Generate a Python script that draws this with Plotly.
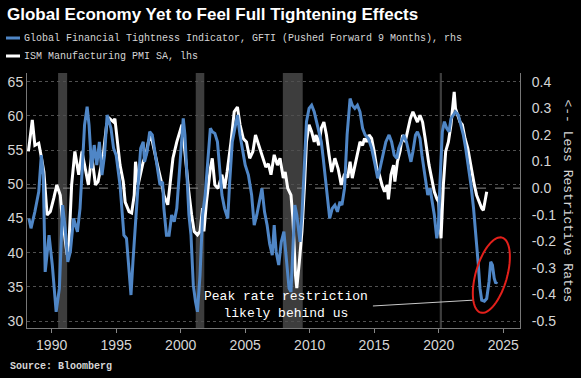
import numpy as np
import plotly.graph_objects as go

# ---------------- data ----------------
pmi_dates = [1988.2, 1988.5, 1988.7, 1989.0, 1989.15, 1989.4, 1989.65, 1989.9, 1990.17, 1990.4,
             1990.67, 1990.8, 1991.0, 1991.2, 1991.35, 1991.55, 1991.8, 1992.1, 1992.35, 1992.6,
             1992.85, 1993.1, 1993.4, 1993.6, 1994.0, 1994.26, 1994.5, 1994.8, 1994.9, 1995.1,
             1995.3, 1995.55, 1995.7, 1996.0, 1996.2, 1996.4, 1996.5, 1996.7, 1996.9, 1997.1,
             1997.3, 1997.5, 1997.7, 1997.95, 1998.2, 1998.5, 1998.7, 1999.0, 1999.2, 1999.4,
             1999.7, 1999.95, 2000.1, 2000.3, 2000.45, 2000.6, 2000.85, 2001.05, 2001.3, 2001.5,
             2001.7, 2001.8, 2002.0, 2002.3, 2002.45, 2002.65, 2002.9, 2003.2, 2003.4, 2003.6,
             2003.9, 2004.15, 2004.4, 2004.6, 2004.85, 2005.1, 2005.35, 2005.6, 2005.8, 2006.05,
             2006.3, 2006.6, 2006.8, 2007.0, 2007.25, 2007.5, 2007.7, 2007.95, 2008.1, 2008.3,
             2008.55, 2008.7, 2008.9, 2009.0, 2009.2, 2009.4, 2009.6, 2009.75, 2009.95, 2010.15,
             2010.35, 2010.5, 2010.7, 2010.9, 2011.1, 2011.3, 2011.5, 2011.7, 2011.95, 2012.2,
             2012.45, 2012.7, 2012.95, 2013.13, 2013.3, 2013.5, 2013.7, 2013.9, 2014.1, 2014.25,
             2014.4, 2014.6, 2014.8, 2015.0, 2015.2, 2015.4, 2015.6, 2015.8, 2016.0, 2016.1,
             2016.3, 2016.5, 2016.6, 2016.8, 2017.0, 2017.2, 2017.4, 2017.6, 2017.8, 2018.0,
             2018.2, 2018.35, 2018.55, 2018.75, 2018.95, 2019.07, 2019.25, 2019.45, 2019.66, 2019.85,
             2020.0, 2020.18, 2020.36, 2020.54, 2020.75, 2020.95, 2021.13, 2021.2, 2021.3, 2021.47,
             2021.65, 2021.83, 2022.04, 2022.25, 2022.43, 2022.6, 2022.76, 2022.94, 2023.13, 2023.33,
             2023.46, 2023.6, 2023.72]
pmi_values = [54.8, 59.4, 55.7, 56.0, 54.5, 51.8, 45.5, 46.0, 48.0, 49.9,
              48.4, 45.5, 42.6, 39.7, 41.6, 49.9, 54.8, 51.4, 54.8, 52.4,
              49.9, 54.3, 49.9, 50.4, 54.3, 58.7, 59.6, 59.1, 59.6, 56.2,
              52.8, 50.4, 47.4, 46.0, 45.8, 48.4, 53.3, 49.9, 51.8, 53.3,
              54.3, 56.2, 57.2, 54.8, 52.8, 50.4, 48.4, 47.0, 50.4, 53.8,
              56.2, 57.7, 58.7, 55.3, 52.0, 49.4, 45.5, 43.1, 42.6, 43.1,
              46.5, 43.1, 47.4, 52.3, 53.8, 49.9, 49.4, 51.4, 49.4, 51.8,
              56.2, 60.6, 61.3, 58.7, 56.7, 56.2, 53.8, 54.8, 57.2, 55.7,
              54.3, 52.5, 53.0, 51.4, 54.3, 52.8, 53.8, 50.9, 51.8, 49.4,
              48.4, 45.0, 36.7, 34.8, 38.7, 43.1, 49.9, 56.2, 58.7, 57.7,
              56.2, 57.2, 55.7, 58.2, 59.1, 57.2, 54.3, 51.8, 53.8, 52.3,
              49.9, 51.5, 51.0, 53.3, 50.9, 52.8, 54.8, 56.2, 55.7, 56.7,
              56.2, 57.2, 56.7, 54.8, 52.3, 51.4, 49.9, 48.9, 49.9, 47.8,
              51.4, 52.8, 50.4, 53.3, 54.8, 57.2, 56.2, 57.7, 59.6, 60.6,
              59.6, 59.1, 60.1, 59.1, 56.7, 54.8, 52.8, 50.9, 48.9, 47.9,
              47.4, 42.1, 49.9, 54.8, 56.2, 58.7, 62.1, 63.5, 61.1, 60.1,
              59.1, 58.7, 56.7, 55.3, 53.3, 51.8, 49.9, 48.4, 47.4, 46.5,
              46.2, 47.4, 48.9]

gfti_dates = [1988.24, 1988.4, 1988.7, 1989.0, 1989.2, 1989.35, 1989.5, 1989.8, 1990.05, 1990.35,
              1990.6, 1990.85, 1991.05, 1991.25, 1991.45, 1991.7, 1992.0, 1992.2, 1992.4, 1992.55,
              1992.75, 1992.9, 1993.1, 1993.3, 1993.5, 1993.7, 1993.9, 1994.1, 1994.3, 1994.6,
              1994.8, 1995.0, 1995.3, 1995.5, 1995.6, 1995.8, 1996.0, 1996.15, 1996.3, 1996.5,
              1996.7, 1996.9, 1997.1, 1997.2, 1997.4, 1997.6, 1997.8, 1998.0, 1998.2, 1998.4,
              1998.6, 1998.7, 1998.9, 1999.1, 1999.3, 1999.5, 1999.7, 1999.9, 2000.1, 2000.2,
              2000.33, 2000.46, 2000.64, 2000.8, 2000.98, 2001.15, 2001.3, 2001.5, 2001.7, 2001.9,
              2002.1, 2002.3, 2002.45, 2002.65, 2002.85, 2003.05, 2003.2, 2003.4, 2003.65, 2003.8,
              2004.0, 2004.2, 2004.4, 2004.6, 2004.8, 2005.0, 2005.25, 2005.5, 2005.7, 2005.9,
              2006.1, 2006.3, 2006.5, 2006.7, 2006.9, 2007.1, 2007.25, 2007.4, 2007.6, 2007.8,
              2008.0, 2008.2, 2008.4, 2008.55, 2008.7, 2008.85, 2009.0, 2009.25, 2009.4, 2009.6,
              2009.75, 2009.95, 2010.15, 2010.35, 2010.6, 2010.9, 2011.05, 2011.2, 2011.4, 2011.55,
              2011.75, 2011.95, 2012.15, 2012.35, 2012.5, 2012.7, 2012.9, 2013.13, 2013.3, 2013.5,
              2013.7, 2013.9, 2014.1, 2014.3, 2014.55, 2014.8, 2015.07, 2015.27, 2015.45, 2015.6,
              2015.9, 2016.15, 2016.35, 2016.55, 2016.75, 2016.9, 2017.1, 2017.3, 2017.5, 2017.7,
              2017.85, 2018.0, 2018.2, 2018.35, 2018.55, 2018.7, 2018.9, 2019.15, 2019.33, 2019.5,
              2019.66, 2019.85, 2019.97, 2020.1, 2020.28, 2020.44, 2020.62, 2020.8, 2020.95, 2021.13,
              2021.3, 2021.52, 2021.73, 2021.91, 2022.09, 2022.3, 2022.5, 2022.7, 2022.82, 2022.95,
              2023.07, 2023.2, 2023.33, 2023.54, 2023.72, 2023.9, 2024.03, 2024.16, 2024.3, 2024.42,
              2024.52]
gfti_values = [-0.114, -0.151, -0.089, -0.014, 0.124, 0.049, -0.315, -0.177, -0.289, -0.465,
               -0.377, -0.064, -0.151, -0.277, -0.239, -0.114, -0.164, -0.076, 0.099, 0.237,
               0.306, 0.237, 0.074, 0.162, 0.087, 0.174, 0.049, 0.124, 0.275, 0.225,
               0.150, 0.124, 0.012, -0.101, -0.177, -0.189, -0.302, -0.402, -0.277, -0.114,
               0.012, 0.150, 0.174, 0.099, 0.137, 0.212, 0.200, 0.137, 0.074, 0.012,
               0.024, -0.076, -0.177, -0.177, -0.101, -0.126, -0.076, 0.049, 0.200, 0.262,
               0.200, 0.049, -0.101, -0.177, -0.365, -0.427, -0.465, -0.327, -0.101, -0.026,
               0.087, 0.225, 0.212, 0.206, 0.174, 0.049, -0.026, -0.076, -0.114, 0.024,
               0.174, 0.225, 0.275, 0.200, 0.137, 0.087, 0.049, -0.026, -0.139, -0.101,
               -0.051, -0.001, -0.089, -0.139, -0.210, -0.252, -0.139, -0.239, -0.289, -0.202,
               -0.164, -0.277, -0.377, -0.390, -0.202, -0.064, -0.101, -0.202, -0.101, 0.099,
               0.250, 0.300, 0.312, 0.287, 0.237, 0.174, 0.112, 0.037, -0.064, -0.114,
               -0.076, -0.064, -0.089, -0.051, -0.064, 0.000, 0.200, 0.337, 0.312, 0.300,
               0.312, 0.287, 0.225, 0.200, 0.187, 0.150, 0.087, 0.037, 0.074, 0.112,
               0.174, 0.200, 0.174, 0.124, 0.112, 0.150, 0.174, 0.200, 0.174, 0.124,
               0.099, 0.137, 0.200, 0.212, 0.187, 0.124, 0.049, -0.026, -0.001, -0.051,
               -0.101, -0.189, -0.151, 0.024, 0.212, 0.250, 0.225, 0.212, 0.262, 0.275,
               0.287, 0.275, 0.237, 0.200, 0.150, 0.087, 0.012, -0.076, -0.139, -0.214,
               -0.289, -0.377, -0.421, -0.425, -0.415, -0.352, -0.277, -0.289, -0.339, -0.358,
               -0.352]

recession_starts = [1990.5, 2001.17, 2007.92, 2020.08]
recession_ends = [1991.2, 2001.83, 2009.46, 2020.25]

x_ticks = [1990, 1995, 2000, 2005, 2010, 2015, 2020, 2025]
left_ticks = [30, 35, 40, 45, 50, 55, 60, 65]
right_ticks = [0.4, 0.3, 0.2, 0.1, 0.0, -0.1, -0.2, -0.3, -0.4, -0.5]
right_tick_labels = ["0.4", "0.3", "0.2", "0.1", "0.0", "-0.1", "-0.2", "-0.3", "-0.4", "-0.5"]

title_text = "Global Economy Yet to Feel Full Tightening Effects"
legend_gfti = "Global Financial Tightness Indicator, GFTI (Pushed Forward 9 Months), rhs"
legend_pmi = "ISM Manufacturing PMI SA, lhs"
right_title = "<-- Less Restrictive Rates"
callout_text = "Peak rate restriction<br>likely behind us"
source_text = "Source: Bloomberg"

# ---------------- style ----------------
BLUE = "#4f86c6"
WHITE = "#ffffff"
TXT = "#d6d6d6"
W, H = 581, 378
ML, MR, MT, MB = 27, 61, 73, 50
XR = [1988.09, 2026.3]
YR = [28.98, 66.27]
Y2R = [-0.526, 0.433]
MONO = "Liberation Mono"
SANS = "Liberation Sans"

fig = go.Figure()
fig.add_trace(go.Scatter(x=gfti_dates, y=gfti_values, yaxis="y2", mode="lines",
                         line=dict(color=BLUE, width=3), name=legend_gfti, showlegend=False))
fig.add_trace(go.Scatter(x=pmi_dates, y=pmi_values, mode="lines",
                         line=dict(color=WHITE, width=3), name=legend_pmi, showlegend=False))

shapes = []
for s, e in zip(recession_starts, recession_ends):
    shapes.append(dict(type="rect", xref="x", yref="paper", x0=s, x1=e, y0=0, y1=1,
                       fillcolor="#3d3d3d", line=dict(width=0), layer="below"))
# zero line of right axis
shapes.append(dict(type="line", xref="paper", yref="y2", x0=0, x1=1, y0=0, y1=0,
                   line=dict(color="#8a8a8a", width=1, dash="dash"), layer="below"))

pw = W - ML - MR
ph = H - MT - MB
def px_to_paper_x(px):
    return (px - ML) / pw
def px_to_paper_y(py):
    return (H - MB - py) / ph

# legend swatches
shapes.append(dict(type="line", xref="paper", yref="paper",
                   x0=px_to_paper_x(6), x1=px_to_paper_x(20), y0=px_to_paper_y(38), y1=px_to_paper_y(38),
                   line=dict(color=BLUE, width=3)))
shapes.append(dict(type="line", xref="paper", yref="paper",
                   x0=px_to_paper_x(6), x1=px_to_paper_x(20), y0=px_to_paper_y(56), y1=px_to_paper_y(56),
                   line=dict(color=WHITE, width=3)))

# callout connector
shapes.append(dict(type="line", xref="x", yref="y", x0=2014.9, y0=32.2, x1=2022.65, y1=33.05,
                   line=dict(color="#c8c8c8", width=1)))

# red ellipse (rotated) around the latest GFTI readings
xs_per_px = (XR[1] - XR[0]) / pw
y2_per_px = (Y2R[1] - Y2R[0]) / ph
cx, cy = 2024.08, -0.327
a, b = 39.0, 15.7
theta = np.deg2rad(16)
t = np.linspace(0, 2 * np.pi, 73)
ux = b * np.cos(t)
uy = a * np.sin(t)
dx = ux * np.cos(theta) + uy * np.sin(theta)
dy = -ux * np.sin(theta) + uy * np.cos(theta)
pts = [(cx + dx_i * xs_per_px, cy + dy_i * y2_per_px) for dx_i, dy_i in zip(dx, dy)]
path = "M " + " L ".join(f"{px:.4f},{py:.4f}" for px, py in pts) + " Z"
shapes.append(dict(type="path", xref="x", yref="y2", path=path,
                   line=dict(color="#e3201b", width=2)))

annotations = [
    dict(text=f"<b>{title_text}</b>", xref="paper", yref="paper", x=px_to_paper_x(5), y=px_to_paper_y(15),
         xanchor="left", yanchor="middle", showarrow=False, font=dict(family=SANS, size=17, color=WHITE)),
    dict(text=legend_gfti, xref="paper", yref="paper", x=px_to_paper_x(22), y=px_to_paper_y(38),
         xanchor="left", yanchor="middle", showarrow=False, font=dict(family=MONO, size=10, color=TXT)),
    dict(text=legend_pmi, xref="paper", yref="paper", x=px_to_paper_x(22), y=px_to_paper_y(56),
         xanchor="left", yanchor="middle", showarrow=False, font=dict(family=MONO, size=10, color=TXT)),
    dict(text=right_title, xref="paper", yref="paper", x=px_to_paper_x(567), y=0.5, textangle=90,
         xanchor="center", yanchor="middle", showarrow=False, font=dict(family=MONO, size=13, color=TXT)),
    dict(text=callout_text, xref="x", yref="y", x=2008.16, y=32.3, xanchor="center", yanchor="middle",
         align="center", showarrow=False, font=dict(family=MONO, size=13, color=WHITE)),
    dict(text=f"<b>{source_text}</b>", xref="paper", yref="paper", x=px_to_paper_x(8), y=px_to_paper_y(366),
         xanchor="left", yanchor="middle", showarrow=False, font=dict(family=MONO, size=10, color=TXT)),
]

fig.update_layout(
    width=W, height=H,
    margin=dict(l=ML, r=MR, t=MT, b=MB, autoexpand=False),
    paper_bgcolor="#000000", plot_bgcolor="#000000",
    showlegend=False,
    shapes=shapes, annotations=annotations,
    xaxis=dict(range=XR, tickvals=x_ticks, ticks="outside", ticklen=4, tickcolor="#888",
               showline=True, linecolor="#777", linewidth=1, showgrid=False, zeroline=False,
               tickfont=dict(family=SANS, size=14, color=TXT)),
    yaxis=dict(range=YR, tickvals=left_ticks, showgrid=True, gridcolor="#505050", griddash="dot",
               gridwidth=1, showline=True, linecolor="#777", zeroline=False, ticks="",
               tickfont=dict(family=SANS, size=14, color=TXT)),
    yaxis2=dict(range=Y2R, overlaying="y", side="right", tickvals=right_ticks, ticktext=right_tick_labels,
                showgrid=False, zeroline=False, showline=True, linecolor="#777", ticks="outside",
                ticklen=4, tickcolor="#000", ticklabelstandoff=4,
                tickfont=dict(family=SANS, size=14, color=TXT)),
)

fig.write_html("out.html", config={"displayModeBar": False},
               post_script="document.body.style.margin='0';document.body.style.background='#000';")
